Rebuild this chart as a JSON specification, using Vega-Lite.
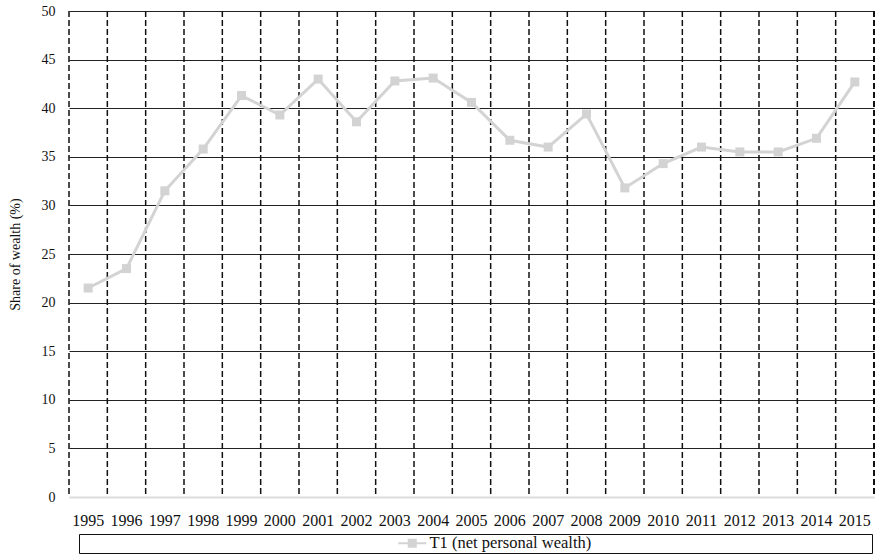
{
  "$schema": "https://vega.github.io/schema/vega-lite/v6.json",
  "width": 805,
  "height": 486,
  "autosize": "none",
  "padding": {"left": 69, "top": 11, "right": 6, "bottom": 62},
  "background": "white",
  "config": {
    "view": {"stroke": null},
    "font": "Liberation Serif",
    "axisX": {"labelAngle": 0, "labelFont": "Liberation Serif", "labelFontSize": 16, "labelColor": "#111", "ticks": false, "grid": false, "domainColor": "#dcdcdc", "domainWidth": 2, "labelPadding": 15, "title": null},
    "legend": {"orient": "none", "legendX": 10, "legendY": 523, "direction": "horizontal", "strokeColor": "#111", "strokeWidth": 1, "padding": 1, "labelFont": "Liberation Serif", "labelFontSize": 16.5, "labelColor": "#111", "labelLimit": 0}
  },
  "data": {"values": [
    {"year": "1995", "share": 21.5, "series": "T1 (net personal wealth)"},
    {"year": "1996", "share": 23.5, "series": "T1 (net personal wealth)"},
    {"year": "1997", "share": 31.5, "series": "T1 (net personal wealth)"},
    {"year": "1998", "share": 35.8, "series": "T1 (net personal wealth)"},
    {"year": "1999", "share": 41.3, "series": "T1 (net personal wealth)"},
    {"year": "2000", "share": 39.3, "series": "T1 (net personal wealth)"},
    {"year": "2001", "share": 43.0, "series": "T1 (net personal wealth)"},
    {"year": "2002", "share": 38.6, "series": "T1 (net personal wealth)"},
    {"year": "2003", "share": 42.8, "series": "T1 (net personal wealth)"},
    {"year": "2004", "share": 43.1, "series": "T1 (net personal wealth)"},
    {"year": "2005", "share": 40.6, "series": "T1 (net personal wealth)"},
    {"year": "2006", "share": 36.7, "series": "T1 (net personal wealth)"},
    {"year": "2007", "share": 36.0, "series": "T1 (net personal wealth)"},
    {"year": "2008", "share": 39.4, "series": "T1 (net personal wealth)"},
    {"year": "2009", "share": 31.8, "series": "T1 (net personal wealth)"},
    {"year": "2010", "share": 34.3, "series": "T1 (net personal wealth)"},
    {"year": "2011", "share": 36.0, "series": "T1 (net personal wealth)"},
    {"year": "2012", "share": 35.5, "series": "T1 (net personal wealth)"},
    {"year": "2013", "share": 35.5, "series": "T1 (net personal wealth)"},
    {"year": "2014", "share": 36.9, "series": "T1 (net personal wealth)"},
    {"year": "2015", "share": 42.7, "series": "T1 (net personal wealth)"}
  ]},
  "layer": [
    {
      "mark": {"type": "rule", "strokeDash": [6, 3], "strokeWidth": 1.5, "color": "#111"},
      "encoding": {
        "x": {"field": "year", "type": "ordinal", "bandPosition": 0, "scale": {"type": "band", "paddingInner": 0, "paddingOuter": 0}}
      }
    },
    {
      "mark": {"type": "rule", "strokeDash": [6, 3], "strokeWidth": 1.5, "color": "#111"},
      "encoding": {
        "x": {"datum": "2015", "type": "ordinal", "bandPosition": 1, "scale": {"type": "band", "paddingInner": 0, "paddingOuter": 0}}
      }
    },
    {
      "mark": {"type": "line", "strokeWidth": 3, "point": {"shape": "square", "filled": true, "size": 81}},
      "encoding": {
        "x": {"field": "year", "type": "ordinal", "bandPosition": 0.5, "scale": {"type": "band", "paddingInner": 0, "paddingOuter": 0}},
        "y": {
          "field": "share", "type": "quantitative",
          "scale": {"domain": [0, 50], "nice": false},
          "axis": {
            "values": [0, 5, 10, 15, 20, 25, 30, 35, 40, 45, 50],
            "grid": true,
            "gridColor": {"condition": {"test": "datum.value === 0", "value": "#dcdcdc"}, "value": "#222"},
            "gridWidth": 1.2,
            "domain": false,
            "ticks": false,
            "labelFont": "Liberation Serif",
            "labelFontSize": 14,
            "labelColor": "#111",
            "labelPadding": 14,
            "title": "Share of  wealth (%)",
            "titleFont": "Liberation Serif",
            "titleFontSize": 14,
            "titleFontWeight": "normal",
            "titleColor": "#111",
            "titlePadding": 19
          }
        },
        "color": {
          "field": "series", "type": "nominal",
          "scale": {"range": ["#d3d3d3"]},
          "legend": {
            "title": " ",
            "titleOrient": "right",
            "titlePadding": 280,
            "symbolOffset": 324,
            "symbolType": "M-2,0L2,0M-0.5,-0.5L0.5,-0.5L0.5,0.5L-0.5,0.5Z",
            "symbolSize": 196,
            "symbolStrokeWidth": 2,
            "symbolFillColor": "#d3d3d3",
            "symbolStrokeColor": "#d3d3d3",
            "labelOffset": 9
          }
        }
      }
    }
  ]
}
